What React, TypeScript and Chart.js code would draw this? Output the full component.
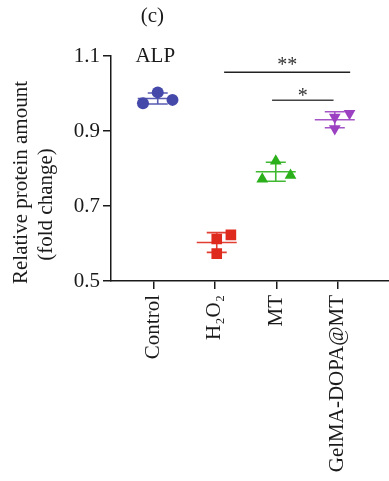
import React, { useEffect, useRef } from 'react';
import { Chart, registerables } from 'chart.js';

Chart.register(...registerables);

// ---- data ----
const categories = ['Control', 'H₂O₂', 'MT', 'GelMA-DOPA@MT'];
const controlValues = [0.974, 1.003, 0.983];
const h2o2Values = [0.612, 0.623, 0.573];
const mtValues = [0.772, 0.82, 0.782];
const gelmaValues = [0.937, 0.947, 0.906];
// horizontal scatter offsets of each replicate (in category units)
const controlJitter = [-0.17, 0.07, 0.31];
const h2o2Jitter = [0.03, 0.26, 0.03];
const mtJitter = [-0.23, -0.01, 0.23];
const gelmaJitter = [-0.05, 0.19, -0.05];
const barCenterOffsets = [0.07, 0.03, -0.01, -0.05];
const yTicks = [0.5, 0.7, 0.9, 1.1];
const xTicks = [0, 1, 2, 3];
const bracketStarts = [1.15, 1.93];
const bracketEnds = [3.2, 2.93];
const bracketHeights = [1.057, 0.982];
const bracketLabels = ['**', '*'];
const panelLabel = '(c)';
const markerLabel = 'ALP';
const yTitleLines = ['Relative protein amount', '(fold change)'];

const groupValues = [controlValues, h2o2Values, mtValues, gelmaValues];
const groupJitter = [controlJitter, h2o2Jitter, mtJitter, gelmaJitter];
const groupColors = ['#4549a9', '#df2a1e', '#2bb01c', '#9b41c1'];
const groupStyles = ['circle', 'rect', 'triangle', 'triangle'];
const groupRotation = [0, 0, 0, 180];
const groupRadius = [6, 7.5, 6.8, 6.8];

const FONT = "'Liberation Serif', 'Times New Roman', serif";
const INK = '#1a1a1a';

const mean = (a: number[]) => a.reduce((s, v) => s + v, 0) / a.length;
const sd = (a: number[]) => {
  const m = mean(a);
  return Math.sqrt(a.reduce((s, v) => s + (v - m) * (v - m), 0) / (a.length - 1));
};

const annotPlugin = {
  id: 'annot',
  afterDatasetsDraw(chart: any) {
    const { ctx } = chart;
    const x = chart.scales.x;
    const y = chart.scales.y;
    ctx.save();
    // mean ± SD bars
    groupValues.forEach((vals, i) => {
      const m = mean(vals);
      const s = sd(vals);
      const cx = x.getPixelForValue(i + barCenterOffsets[i]);
      const ym = y.getPixelForValue(m);
      const yt = y.getPixelForValue(m + s);
      const yb = y.getPixelForValue(m - s);
      ctx.strokeStyle = groupColors[i];
      ctx.globalAlpha = 0.9;
      ctx.lineWidth = 1.6;
      ctx.beginPath();
      ctx.moveTo(cx - 20, ym);
      ctx.lineTo(cx + 20, ym);
      ctx.moveTo(cx - 10, yt);
      ctx.lineTo(cx + 10, yt);
      ctx.moveTo(cx - 10, yb);
      ctx.lineTo(cx + 10, yb);
      ctx.moveTo(cx, yt);
      ctx.lineTo(cx, yb);
      ctx.stroke();
    });
    ctx.globalAlpha = 1;
    // significance labels
    ctx.fillStyle = '#333';
    ctx.font = `20px ${FONT}`;
    ctx.textAlign = 'center';
    ctx.textBaseline = 'alphabetic';
    bracketLabels.forEach((lab, i) => {
      const cx = x.getPixelForValue((bracketStarts[i] + bracketEnds[i]) / 2);
      const cy = y.getPixelForValue(bracketHeights[i]);
      ctx.fillText(lab, cx, cy + (i === 0 ? -1 : 2));
    });
    // marker label
    ctx.fillStyle = INK;
    ctx.font = `21px ${FONT}`;
    ctx.fillText(markerLabel, x.getPixelForValue(0.03), y.getPixelForValue(1.1) + 6);
    // panel label
    ctx.textBaseline = 'middle';
    ctx.fillText(panelLabel, x.getPixelForValue(0) - 1, 16);
    // y title (two lines)
    const cy0 = (chart.chartArea.top + chart.chartArea.bottom) / 2;
    const titleX = [21, 46];
    const titleY = [cy0 + 14, cy0 + 36];
    yTitleLines.forEach((t, i) => {
      ctx.save();
      ctx.translate(titleX[i], titleY[i]);
      ctx.rotate(-Math.PI / 2);
      ctx.fillText(t, 0, 0);
      ctx.restore();
    });
    ctx.restore();
  },
};

export default function App() {
  const ref = useRef<HTMLCanvasElement | null>(null);
  useEffect(() => {
    if (!ref.current) return;
    const pointSets = groupValues.map((vals, i) => ({
      type: 'scatter' as const,
      data: vals.map((v, j) => ({ x: i + groupJitter[i][j], y: v })),
      pointStyle: groupStyles[i],
      rotation: groupRotation[i],
      pointRadius: groupRadius[i],
      backgroundColor: groupColors[i],
      borderColor: groupColors[i],
      borderWidth: 0,
      order: 1,
    }));
    const bracketSets = bracketLabels.map((_, i) => ({
      type: 'line' as const,
      data: [
        { x: bracketStarts[i], y: bracketHeights[i] },
        { x: bracketEnds[i], y: bracketHeights[i] },
      ],
      showLine: true,
      borderColor: i === 0 ? '#222' : '#444',
      borderWidth: 1.5,
      pointRadius: 0,
      fill: false,
      order: 2,
    }));
    const chart = new Chart(ref.current, {
      type: 'scatter',
      data: { datasets: [...bracketSets, ...pointSets] as any },
      options: {
        animation: false,
        responsive: false,
        devicePixelRatio: 1,
        layout: { padding: { top: 56, right: 0, left: 0, bottom: 0 } },
        plugins: { legend: { display: false }, tooltip: { enabled: false } },
        scales: {
          x: {
            type: 'linear',
            min: -0.69,
            max: 3.84,
            bounds: 'data',
            afterBuildTicks: (s: any) => {
              s.ticks = xTicks.map((v) => ({ value: v }));
            },
            afterFit: (s: any) => {
              s.height = 200;
              s.paddingLeft = 0;
              s.paddingRight = 0;
            },
            grid: { display: true, drawOnChartArea: false, drawTicks: true, tickLength: 8, color: INK, lineWidth: 1.5 },
            border: { display: true, color: INK, width: 1.5 },
            ticks: {
              minRotation: 90,
              maxRotation: 90,
              padding: 6,
              color: INK,
              font: { family: FONT, size: 21 },
              callback: (v: any) => categories[Math.round(Number(v))] ?? '',
            },
          },
          y: {
            type: 'linear',
            min: 0.5,
            max: 1.1,
            bounds: 'data',
            afterBuildTicks: (s: any) => {
              s.ticks = yTicks.map((v) => ({ value: v }));
            },
            afterFit: (s: any) => {
              s.width = 111;
              s.paddingTop = 0;
              s.paddingBottom = 0;
            },
            grid: { display: true, drawOnChartArea: false, drawTicks: true, tickLength: 8, color: INK, lineWidth: 1.5 },
            border: { display: true, color: INK, width: 1.5 },
            ticks: {
              padding: 3,
              color: INK,
              font: { family: FONT, size: 21 },
              callback: (v: any) => Number(v).toFixed(1),
            },
          },
        },
      } as any,
      plugins: [annotPlugin],
    });
    return () => chart.destroy();
  }, []);
  return (
    <div style={{ position: 'absolute', left: 0, top: 0, width: 389, height: 481, overflow: 'hidden', background: '#fff' }}>
      <canvas ref={ref} width={397} height={481} style={{ width: 397, height: 481, display: 'block' }} />
    </div>
  );
}
